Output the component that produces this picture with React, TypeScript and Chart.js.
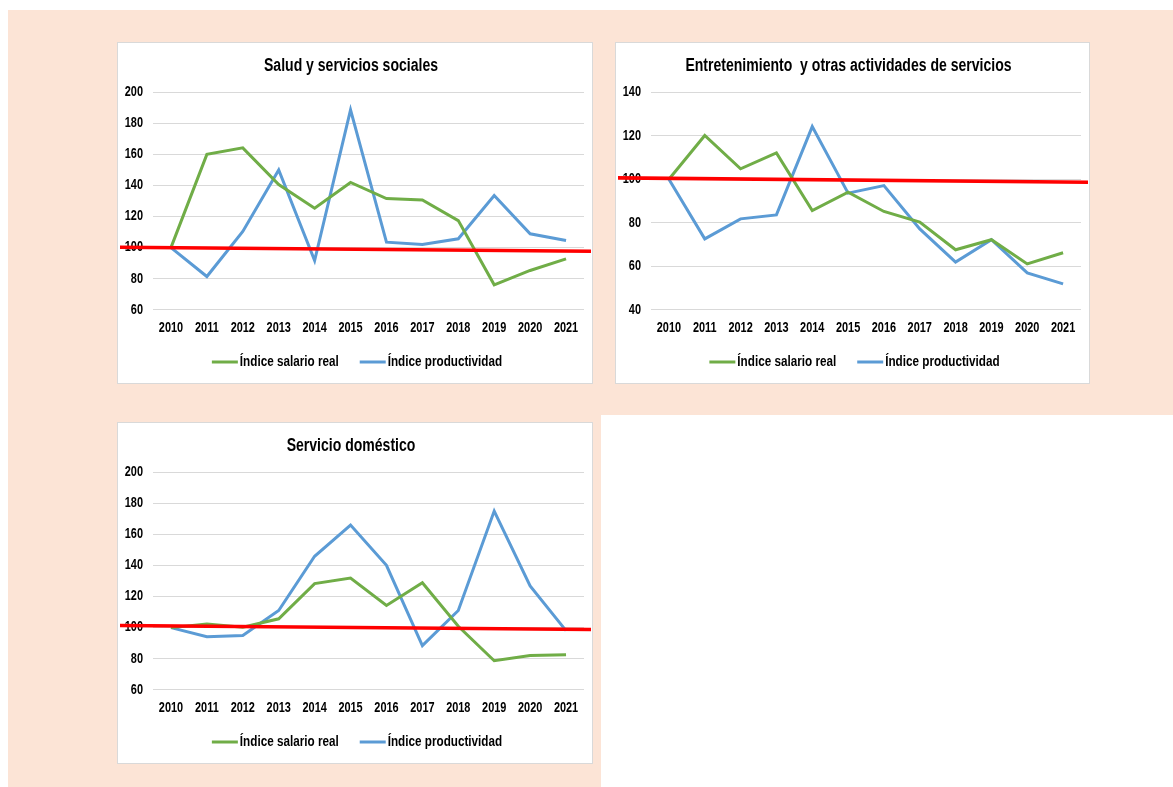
import React, { useEffect, useRef } from "react";
import { Chart, registerables } from "chart.js";

Chart.register(...registerables);

const years = ["2010", "2011", "2012", "2013", "2014", "2015", "2016", "2017", "2018", "2019", "2020", "2021"];

const seriesNames = ["Índice salario real", "Índice productividad"];

const saludSalario = [100, 160, 164.2, 140.6, 125.4, 141.9, 131.6, 130.7, 117.4, 76.1, 85.3, 92.8];
const saludProductividad = [100, 81.4, 110.4, 150, 91.7, 188.6, 103.5, 102, 105.7, 133.5, 108.9, 104.6];
const saludRef = [100, 97.8];

const entSalario = [100, 120.1, 104.8, 112.1, 85.6, 94.1, 85.2, 80.3, 67.6, 72.2, 61.1, 66.2];
const entProductividad = [100, 72.6, 81.8, 83.6, 124.2, 93.6, 97.1, 77.2, 61.9, 72.2, 57, 51.9];
const entRef = [100.4, 98.7];

const domSalario = [100, 102.4, 100.3, 105.7, 128.3, 131.9, 114.3, 128.9, 100.9, 78.7, 82, 82.6];
const domProductividad = [100, 94.2, 94.9, 111, 145.9, 166, 140.1, 88.4, 111, 175, 126.8, 98.1];
const domRef = [101.1, 98.9];

const GREEN = "#70AD47";
const BLUE = "#5B9BD5";
const RED = "#FF0000";
const PEACH = "#FCE4D6";
const FONT = "'Liberation Sans', Arial, sans-serif";
const NARROW = 0.78;

// Narrow text rendering (Arial Narrow look) by horizontally condensing the canvas text
function condense(ctx: any, s: number) {
  const fill = ctx.fillText.bind(ctx);
  const measure = ctx.measureText.bind(ctx);
  ctx.fillText = (text: string, x: number, y: number) => {
    ctx.save();
    ctx.translate(x, y);
    ctx.scale(s, 1);
    fill(text, 0, 0);
    ctx.restore();
  };
  ctx.measureText = (text: string) => {
    const m = measure(text);
    return {
      width: m.width * s,
      actualBoundingBoxAscent: m.actualBoundingBoxAscent,
      actualBoundingBoxDescent: m.actualBoundingBoxDescent,
      actualBoundingBoxLeft: m.actualBoundingBoxLeft * s,
      actualBoundingBoxRight: m.actualBoundingBoxRight * s,
      fontBoundingBoxAscent: m.fontBoundingBoxAscent,
      fontBoundingBoxDescent: m.fontBoundingBoxDescent,
    };
  };
}

const refLinePlugin = {
  id: "refLine",
  afterDatasetsDraw(chart: any, _args: any, opts: any) {
    if (!opts || !opts.values) return;
    const xs = chart.scales.x;
    const ys = chart.scales.y;
    const n = chart.data.labels.length;
    const x0 = xs.getPixelForValue(0);
    const x1 = xs.getPixelForValue(n - 1);
    const y0 = ys.getPixelForValue(opts.values[0]);
    const y1 = ys.getPixelForValue(opts.values[1]);
    const slope = (y1 - y0) / (x1 - x0);
    const xa = 2;
    const xb = chart.width - 1;
    const ctx = chart.ctx;
    ctx.save();
    ctx.strokeStyle = RED;
    ctx.lineWidth = 3.6;
    ctx.beginPath();
    ctx.moveTo(xa, y0 + (xa - x0) * slope);
    ctx.lineTo(xb, y0 + (xb - x0) * slope);
    ctx.stroke();
    ctx.restore();
  },
};

const lineLegendPlugin = {
  id: "lineLegend",
  afterDraw(chart: any, _args: any, opts: any) {
    const ctx = chart.ctx;
    const lineLen = opts.lineLen;
    const textGap = opts.textGap;
    const itemGap = opts.itemGap;
    ctx.save();
    ctx.font = `bold ${opts.fontSize}px ${FONT}`;
    const items = chart.data.datasets.map((d: any) => ({
      text: d.label,
      color: d.borderColor,
      w: ctx.measureText(d.label).width,
    }));
    let total = 0;
    items.forEach((it: any, i: number) => {
      total += lineLen + textGap + it.w + (i > 0 ? itemGap : 0);
    });
    let x = chart.width / 2 - total / 2 + opts.shift;
    const y = chart.height - opts.fromBottom;
    items.forEach((it: any, i: number) => {
      if (i > 0) x += itemGap;
      ctx.strokeStyle = it.color;
      ctx.lineWidth = 3;
      ctx.beginPath();
      ctx.moveTo(x, y);
      ctx.lineTo(x + lineLen, y);
      ctx.stroke();
      x += lineLen + textGap;
      ctx.fillStyle = "#000";
      ctx.textAlign = "left";
      ctx.textBaseline = "middle";
      ctx.fillText(it.text, x, y);
      x += it.w;
    });
    ctx.restore();
  },
};

type PanelProps = {
  left: number;
  top: number;
  width: number;
  height: number;
  title: string;
  salario: number[];
  productividad: number[];
  refValues: number[];
  yMin: number;
  yMax: number;
};

function Panel(p: PanelProps) {
  const ref = useRef<HTMLCanvasElement | null>(null);
  const cw = p.width - 2;
  const ch = p.height - 2;
  useEffect(() => {
    if (!ref.current) return;
    const ctx = ref.current.getContext("2d");
    condense(ctx, NARROW);
    const chart = new Chart(ref.current, {
      type: "line",
      data: {
        labels: years,
        datasets: [
          {
            label: seriesNames[0],
            data: p.salario,
            borderColor: GREEN,
            backgroundColor: GREEN,
            borderWidth: 3,
            pointRadius: 0,
            tension: 0,
          },
          {
            label: seriesNames[1],
            data: p.productividad,
            borderColor: BLUE,
            backgroundColor: BLUE,
            borderWidth: 3,
            pointRadius: 0,
            tension: 0,
          },
        ],
      },
      options: {
        responsive: false,
        animation: false,
        devicePixelRatio: 1,
        layout: { padding: { left: 0, right: 8, top: 0, bottom: 47.6 } },
        scales: {
          x: {
            offset: true,
            grid: { display: false, drawTicks: false },
            border: { display: false },
            ticks: {
              color: "#000",
              padding: 9.8,
              font: { family: FONT, size: 14, weight: "bold" },
              maxRotation: 0,
              autoSkip: false,
            },
            afterFit: (scale: any) => {
              scale.height = 25.6;
            },
          },
          y: {
            min: p.yMin,
            max: p.yMax,
            grid: { color: "#D9D9D9", lineWidth: 1, drawTicks: false },
            border: { display: false },
            ticks: {
              stepSize: 20,
              color: "#000",
              padding: 10,
              font: { family: FONT, size: 14, weight: "bold" },
            },
            afterFit: (scale: any) => {
              scale.width = 35;
            },
          },
        },
        plugins: {
          title: {
            display: true,
            text: p.title,
            color: "#000",
            font: { family: FONT, size: 18, weight: "bold" },
            padding: { top: 11.8, bottom: 15.8 },
          },
          legend: { display: false },
          tooltip: { enabled: false },
          refLine: { values: p.refValues },
          lineLegend: { lineLen: 26, textGap: 2, itemGap: 21, fontSize: 15, fromBottom: 21, shift: 2 },
        } as any,
      },
      plugins: [refLinePlugin, lineLegendPlugin],
    } as any);
    return () => chart.destroy();
  }, []);
  return (
    <div
      style={{
        position: "absolute",
        left: p.left,
        top: p.top,
        width: p.width,
        height: p.height,
        boxSizing: "border-box",
        border: "1px solid #D9D9D9",
        background: "#fff",
      }}
    >
      <canvas ref={ref} width={cw} height={ch} style={{ display: "block", width: cw, height: ch }} />
    </div>
  );
}

export default function App() {
  return (
    <div style={{ position: "absolute", left: 0, top: 0, width: 1173, height: 787, background: "#fff", overflow: "hidden" }}>
      <div style={{ position: "absolute", left: 8, top: 10, width: 1165, height: 405, background: PEACH }} />
      <div style={{ position: "absolute", left: 8, top: 415, width: 593, height: 372, background: PEACH }} />
      <Panel
        left={117}
        top={42}
        width={476}
        height={342}
        title="Salud y servicios sociales"
        salario={saludSalario}
        productividad={saludProductividad}
        refValues={saludRef}
        yMin={60}
        yMax={200}
      />
      <Panel
        left={615}
        top={42}
        width={475}
        height={342}
        title="Entretenimiento  y otras actividades de servicios"
        salario={entSalario}
        productividad={entProductividad}
        refValues={entRef}
        yMin={40}
        yMax={140}
      />
      <Panel
        left={117}
        top={422}
        width={476}
        height={342}
        title="Servicio doméstico"
        salario={domSalario}
        productividad={domProductividad}
        refValues={domRef}
        yMin={60}
        yMax={200}
      />
    </div>
  );
}
